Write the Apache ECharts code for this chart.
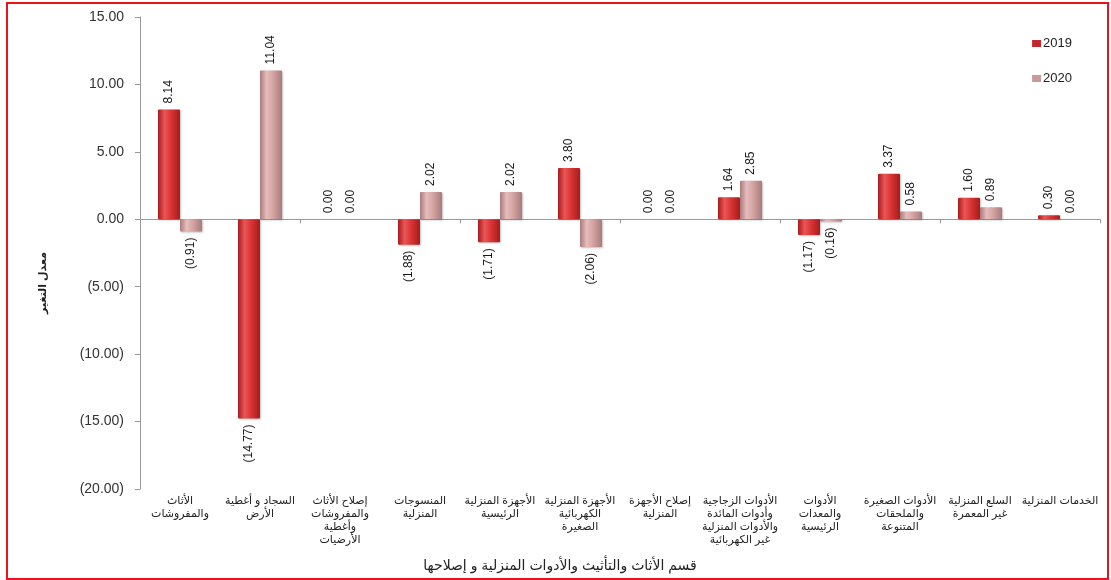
<!DOCTYPE html>
<html>
<head>
<meta charset="utf-8">
<script src="https://cdn.jsdelivr.net/npm/echarts@6/dist/echarts.min.js"></script>
<style>
    html, body { margin: 0; padding: 0; background: #fff; }
    #wrap { position: relative; width: 1111px; height: 580px; }
    #chart { position: absolute; left: 0; top: 0; width: 1111px; height: 580px; }
    #frame { position: absolute; left: 6px; top: 2px; width: 1099px; height: 574px; border: 2px solid #e8141c; pointer-events: none; }
</style>
</head>
<body>
<div id="wrap">
    <div id="chart"></div>
    <div id="frame"></div>
</div>
<script>
// الفئات
const categories = [
    'الأثاث\nوالمفروشات',
    'السجاد و أغطية\nالأرض',
    'إصلاح الأثاث\nوالمفروشات\nوأغطية\nالأرضيات',
    'المنسوجات\nالمنزلية',
    'الأجهزة المنزلية\nالرئيسية',
    'الأجهزة المنزلية\nالكهربائية\nالصغيرة',
    'إصلاح الأجهزة\nالمنزلية',
    'الأدوات الزجاجية\nوأدوات المائدة\nوالأدوات المنزلية\nغير الكهربائية',
    'الأدوات\nوالمعدات\nالرئيسية',
    'الأدوات الصغيرة\nوالملحقات\nالمتنوعة',
    'السلع المنزلية\nغير المعمرة',
    'الخدمات المنزلية'
];
const values2019 = [8.14, -14.77, 0.00, -1.88, -1.71, 3.80, 0.00, 1.64, -1.17, 3.37, 1.60, 0.30];
const values2020 = [-0.91, 11.04, 0.00, 2.02, 2.02, -2.06, 0.00, 2.85, -0.16, 0.58, 0.89, 0.00];
const seriesNames = ['2019', '2020'];
const yTicks = { min: -20, max: 15, interval: 5 };

const yAxisTitle = 'معدل التغير';
const xAxisTitle = 'قسم الأثاث والتأثيث والأدوات المنزلية و إصلاحها';

// تنسيق الأرقام: السالب بين قوسين
const fmt = v => v < 0 ? '(' + Math.abs(v).toFixed(2) + ')' : v.toFixed(2);

const numFont = '"Liberation Sans Narrow", "Liberation Sans", Arial, sans-serif';
const arFont = '"Liberation Sans", "DejaVu Sans", sans-serif';

function grad(edge, mid, hi) {
    return {
        type: 'linear', x: 0, y: 0, x2: 1, y2: 0,
        colorStops: [
            { offset: 0, color: edge },
            { offset: 0.3, color: hi },
            { offset: 0.6, color: mid },
            { offset: 1, color: edge }
        ]
    };
}

const colors = [
    grad('#a61c1c', '#d83434', '#ea5555'),
    grad('#a97a7a', '#d3a3a3', '#e6bcbc')
];
const legendColors = ['#c0282e', '#c89a9a'];

function buildData(values) {
    return values.map(v => ({
        value: v,
        label: v < 0
            ? { position: 'bottom', align: 'right', distance: 6 }
            : { position: 'top', align: 'left', distance: 6 }
    }));
}

const chart = echarts.init(document.getElementById('chart'));

const makeSeries = (name, values, i) => ({
    name: name,
    type: 'bar',
    xAxisIndex: 0,
    barWidth: 22,
    barGap: '0%',
    data: buildData(values),
    itemStyle: { color: colors[i], borderRadius: 1, shadowColor: 'rgba(0,0,0,0.25)', shadowBlur: 2, shadowOffsetX: 1, shadowOffsetY: 1 },
    label: {
        show: true,
        rotate: 90,
        verticalAlign: 'middle',
        fontFamily: numFont,
        fontSize: 12,
        color: '#1a1a1a',
        formatter: p => fmt(p.value)
    },
    emphasis: { disabled: true }
});

chart.setOption({
    animation: false,
    grid: { left: 140, right: 11, top: 17, bottom: 91 },
    legend: {
        orient: 'vertical',
        right: 34,
        top: 32,
        itemGap: 22,
        itemWidth: 9,
        itemHeight: 7,
        itemStyle: { borderWidth: 0 },
        icon: 'rect',
        textStyle: { fontFamily: arFont, fontSize: 13, color: '#222', padding: [0, 0, 0, -3] },
        data: seriesNames.map((n, i) => ({ name: n, itemStyle: { color: legendColors[i] } }))
    },
    xAxis: [
        {
            type: 'category',
            data: categories,
            position: 'bottom',
            axisLine: { show: false, onZero: false },
            axisTick: { show: false },
            axisLabel: {
                interval: 0,
                margin: 5,
                fontFamily: arFont,
                fontSize: 11,
                lineHeight: 13,
                color: '#222'
            }
        },
        {
            type: 'category',
            data: categories,
            position: 'bottom',
            axisLine: { show: true, onZero: true, lineStyle: { color: '#9a9a9a', width: 1 } },
            axisTick: { show: true, length: 4, lineStyle: { color: '#9a9a9a' } },
            axisLabel: { show: false }
        }
    ],
    yAxis: {
        type: 'value',
        min: yTicks.min,
        max: yTicks.max,
        interval: yTicks.interval,
        name: yAxisTitle,
        nameLocation: 'middle',
        nameGap: 92,
        nameRotate: 90,
        nameTextStyle: { fontFamily: arFont, fontSize: 11, fontWeight: 'bold', color: '#222', padding: [0, 0, 0, -60] },
        axisLine: { show: true, lineStyle: { color: '#9a9a9a' } },
        axisTick: { show: true, length: 5, lineStyle: { color: '#9a9a9a' } },
        splitLine: { show: false },
        axisLabel: {
            margin: 16,
            fontFamily: '"Liberation Sans", Arial, sans-serif',
            fontSize: 14,
            color: '#333',
            formatter: v => fmt(v)
        }
    },
    graphic: [{
        type: 'text',
        x: 560,
        y: 566,
        style: { text: xAxisTitle, fontFamily: arFont, fontSize: 14, fill: '#222', align: 'center', verticalAlign: 'middle' }
    }],
    series: [
        makeSeries(seriesNames[0], values2019, 0),
        makeSeries(seriesNames[1], values2020, 1)
    ]
});
</script>
</body>
</html>
